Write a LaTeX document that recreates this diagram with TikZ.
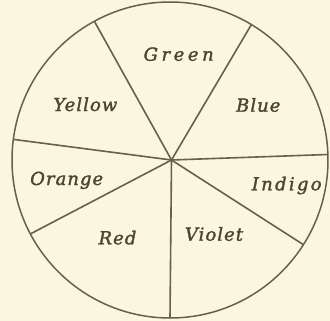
\documentclass[tikz,border=0pt]{standalone}
\usepackage{fontspec}
\usetikzlibrary{calc}
\definecolor{paper}{RGB}{251,246,222}
\definecolor{ink}{RGB}{105,95,75}
\definecolor{textink}{RGB}{78,68,52}
\newfontfamily\labelfont[LetterSpace=6,FakeBold=1.8]{DejaVu Serif}
\newfontfamily\widelabelfont[LetterSpace=20,FakeBold=1.8]{DejaVu Serif}
\newfontfamily\midlabelfont[LetterSpace=13,FakeBold=1.8]{DejaVu Serif}
\tikzset{
  rim/.style={draw=ink, line width=1.5bp},
  spoke/.style={draw=ink, line width=1.6bp},
  lbl/.style={text=textink, font=\labelfont\itshape\fontsize{18}{21}\selectfont, inner sep=0pt, anchor=base},
  widelbl/.style={lbl, font=\widelabelfont\itshape\fontsize{18}{21}\selectfont},
  midlbl/.style={lbl, font=\midlabelfont\itshape\fontsize{18}{21}\selectfont}
}
\begin{document}
\begin{tikzpicture}[x=1bp,y=1bp]
\fill[paper] (0,0) rectangle (330,321);
\useasboundingbox (0,0) rectangle (330,321);
\coordinate (c) at (170,161);
\coordinate (hub) at (171.5,161);
\draw[rim] (c) circle (158);
\coordinate (s1) at ($(c)+(118.6:158)$);
\coordinate (s2) at ($(c)+(59:158)$);
\coordinate (s3) at ($(c)+(2:158)$);
\coordinate (s4) at ($(c)+(-32.4:158)$);
\coordinate (s5) at ($(c)+(-90:158)$);
\coordinate (s6) at ($(c)+(207.9:158)$);
\coordinate (s7) at ($(c)+(172.5:158)$);
\foreach \s in {s1,s2,s3,s4,s5,s6,s7} \draw[spoke] (hub) -- (\s);
\node[widelbl] (green) at (178.7,260.3) {Green};
\node[lbl] (yellow) at (85.3,210) {Yellow};
\node[lbl] (blue) at (258.3,209.3) {Blue};
\node[lbl] (orange) at (66.7,136) {Orange};
\node[midlbl] (indigo) at (286.7,130.7) {Indigo};
\node[lbl] (red) at (117.5,76.7) {Red};
\node[lbl] (violet) at (214,80.3) {Violet};
\end{tikzpicture}
\end{document}
